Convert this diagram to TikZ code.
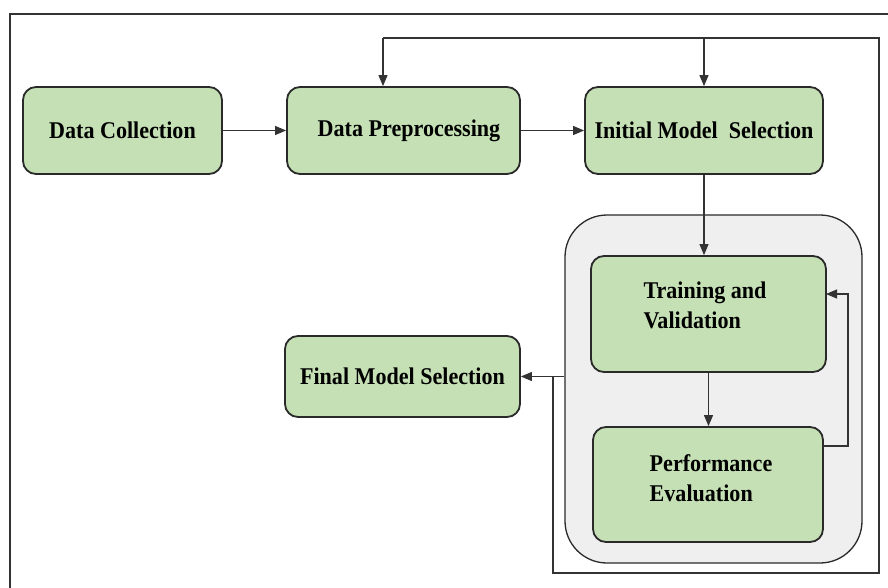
\documentclass[tikz,border=0pt]{standalone}
\usepackage{fontspec}
\usepackage{graphicx}
\setmainfont{Liberation Serif}
\newcommand{\bx}[1]{\scalebox{0.92}[1]{\bfseries #1}}
\usetikzlibrary{arrows.meta}
\definecolor{boxgreen}{HTML}{C5E0B4}
\definecolor{boxedge}{HTML}{2A2A2A}
\definecolor{contfill}{HTML}{EFEFEF}
\definecolor{linegray}{HTML}{333333}
\begin{document}
\begin{tikzpicture}[x=1pt,y=-1pt,
  boxtext/.style={font=\fontsize{24}{30}\selectfont\bfseries,align=left},
  stepbox/.style={draw=boxedge,line width=1.8pt,fill=boxgreen,rounded corners=13pt,
    minimum width=#1,inner sep=0pt,boxtext},
  container/.style={draw=boxedge,line width=1.3pt,fill=contfill,rounded corners=42pt,inner sep=0pt},
  conn/.style={draw=linegray,line width=1.1pt},
  arr/.style={conn,-{Triangle[length=11pt,width=9pt]}}]
\useasboundingbox (0,0) rectangle (888,588);
\fill[white] (0,0) rectangle (888,588);
% outer frame
\draw[draw=linegray,line width=1.8pt] (10,588) -- (10,14) -- (888,14);
% container
\node[container,minimum width=297pt,minimum height=348pt] (cont) at (713.5,389) {};
% boxes
\node[stepbox=199pt,minimum height=87pt] (DC) at (122.5,130.5) {\bx{Data Collection}};
\node[stepbox=233pt,minimum height=87pt] (DP) at (403.5,130.5) {};
\node[boxtext] (DPt) at (409,130.5) {\bx{Data Preprocessing}};
\node[stepbox=238pt,minimum height=87pt] (IMS) at (704,130.5) {\bx{Initial Model\ \ Selection}};
\node[stepbox=235pt,minimum height=116pt] (TV) at (708.5,314) {};
\node[boxtext] (TVt) at (705,305) {\bx{Training and}\\\bx{Validation}};
\node[stepbox=230pt,minimum height=115pt] (PE) at (708,484.5) {};
\node[boxtext] (PEt) at (711,478) {\bx{Performance}\\\bx{Evaluation}};
\node[stepbox=235pt,minimum height=81pt] (FMS) at (402.5,376.5) {\bx{Final Model Selection}};
% main flow
\draw[arr] (DC.east) -- (DP.west);
\draw[arr] (DP.east) -- (IMS.west);
\draw[arr] (IMS.south) -- (IMS.south |- TV.north);
\draw[arr] (TV.south) -- (TV.south |- PE.north);
% feedback PE -> TV
\coordinate (fbA) at (823,446);
\coordinate (fbB) at (848,446);
\coordinate (fbC) at (848,294);
\coordinate (fbD) at (826,294);
\draw[arr] (fbA) -- (fbB) -- (fbC) -- (fbD);
% container -> final
\draw[arr] (cont.west |- FMS.east) -- (FMS.east);
% big loop
\coordinate (j) at (553,376.5);
\coordinate (lBL) at (553,573);
\coordinate (lBR) at (879,573);
\coordinate (lTR) at (879,38);
\coordinate (lTL) at (383,38);
\draw[conn] (j) -- (lBL) -- (lBR) -- (lTR) -- (lTL);
\draw[arr] (lTL) -- (lTL |- DP.north);
\draw[arr] (IMS.north |- lTL) -- (IMS.north);
\end{tikzpicture}
\end{document}
